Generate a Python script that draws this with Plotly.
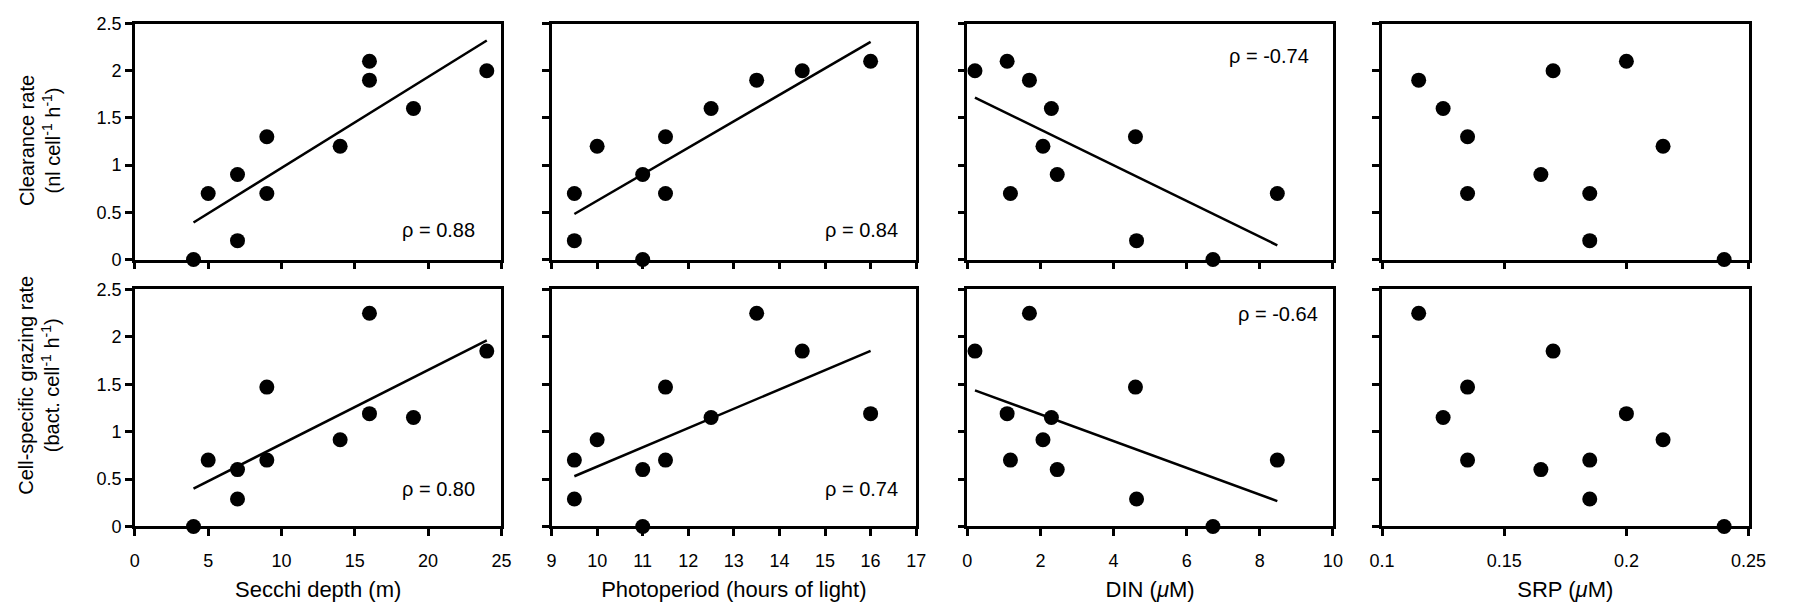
import numpy as np
import plotly.graph_objects as go

# ---- data (one entry per sample) ----
secchi = [4, 5, 7, 7, 9, 9, 14, 16, 16, 19, 24]
photoperiod = [11, 9.5, 11, 9.5, 11.5, 11.5, 10, 13.5, 16, 12.5, 14.5]
din = [6.72, 1.18, 2.46, 4.63, 4.6, 8.48, 2.07, 1.7, 1.09, 2.3, 0.21]
srp = [0.24, 0.135, 0.165, 0.185, 0.135, 0.185, 0.215, 0.115, 0.2, 0.125, 0.17]
clearance = [0, 0.7, 0.9, 0.2, 1.3, 0.7, 1.2, 1.9, 2.1, 1.6, 2.0]
grazing = [0, 0.7, 0.6, 0.29, 1.47, 0.7, 0.915, 2.25, 1.19, 1.15, 1.85]

x_vars = [secchi, photoperiod, din, srp]
x_titles = ["Secchi depth (m)", "Photoperiod (hours of light)",
            "DIN (<i>\u03bc</i>M)", "SRP (<i>\u03bc</i>M)"]
x_ranges = [[0, 25], [9, 17], [0, 10], [0.1, 0.25]]
x_dticks = [5, 1, 2, 0.05]
y_vars = [clearance, grazing]
y_titles = ["Clearance rate<br>(nl cell<sup>-1</sup> h<sup>-1</sup>)",
            "Cell-specific grazing rate<br>(bact. cell<sup>-1</sup> h<sup>-1</sup>)"]
fit_panels = [[True, True, True, False], [True, True, True, False]]
rho_text = [["\u03c1 = 0.88", "\u03c1 = 0.84", "\u03c1 = -0.74", None],
            ["\u03c1 = 0.80", "\u03c1 = 0.74", "\u03c1 = -0.64", None]]
rho_pos = [[(20.7, 0.31), (15.79, 0.31), (8.25, 2.16), None],
           [(20.7, 0.40), (15.79, 0.40), (8.49, 2.24), None]]

W, H = 1801, 608
col_px = [(124, 497), (548, 919), (971, 1343), (1393, 1766)]
row_px = [(14, 258), (289, 534)]

FONT = "Arial, Liberation Sans, Helvetica, sans-serif"
fig = go.Figure()
layout = dict(width=W, height=H, margin=dict(l=0, r=0, t=0, b=0),
              paper_bgcolor="white", plot_bgcolor="white", showlegend=False,
              font=dict(family=FONT, color="black", size=18))
annotations = []

for r in range(2):
    for c in range(4):
        i = r * 4 + c + 1
        xs = x_vars[c]
        ys = y_vars[r]
        xa = "x" if i == 1 else f"x{i}"
        ya = "y" if i == 1 else f"y{i}"
        fig.add_trace(go.Scatter(x=xs, y=ys, mode="markers", xaxis=xa, yaxis=ya,
                                 marker=dict(color="black", size=15),
                                 cliponaxis=False))
        if fit_panels[r][c]:
            m, b = np.polyfit(xs, ys, 1)
            xl = [min(xs), max(xs)]
            yl = [m * v + b for v in xl]
            fig.add_trace(go.Scatter(x=xl, y=yl, mode="lines", xaxis=xa, yaxis=ya,
                                     line=dict(color="black", width=2.5),
                                     cliponaxis=False))
        x0, x1 = col_px[c]
        y0, y1 = row_px[r]
        xdict = dict(domain=[x0 / W, x1 / W], range=x_ranges[c], dtick=x_dticks[c],
                     tick0=x_ranges[c][0], anchor=ya,
                     showline=True, linecolor="black", linewidth=2.5, mirror=True,
                     ticks="outside", ticklen=7, tickwidth=2.5, tickcolor="black",
                     showgrid=False, zeroline=False, fixedrange=True,
                     showticklabels=(r == 1), ticklabelstandoff=9,
                     tickfont=dict(size=18))
        if r == 1:
            xdict["title"] = dict(text=x_titles[c], font=dict(size=22), standoff=12)
        ydict = dict(domain=[1 - y1 / H, 1 - y0 / H], range=[0, 2.5], dtick=0.5,
                     anchor=xa,
                     showline=True, linecolor="black", linewidth=2.5, mirror=True,
                     ticks="outside", ticklen=7, tickwidth=2.5, tickcolor="black",
                     showgrid=False, zeroline=False, fixedrange=True,
                     showticklabels=(c == 0), tickfont=dict(size=18))
        layout["xaxis" if i == 1 else f"xaxis{i}"] = xdict
        layout["yaxis" if i == 1 else f"yaxis{i}"] = ydict
        if rho_text[r][c]:
            px_, py_ = rho_pos[r][c]
            annotations.append(dict(text=rho_text[r][c], x=px_, y=py_, xref=xa, yref=ya,
                                    showarrow=False, xanchor="center", yanchor="middle",
                                    font=dict(size=20)))

annotations.append(dict(text=y_titles[0], x=27 / W, y=1 - 135 / H, xref="paper", yref="paper",
                        textangle=-90, showarrow=False, xanchor="center", yanchor="middle",
                        font=dict(size=20)))
annotations.append(dict(text=y_titles[1], x=27 / W, y=1 - 388 / H, xref="paper", yref="paper",
                        textangle=-90, showarrow=False, xanchor="center", yanchor="middle",
                        font=dict(size=20)))
layout["annotations"] = annotations
fig.update_layout(**layout)
fig.write_html("out.html")
